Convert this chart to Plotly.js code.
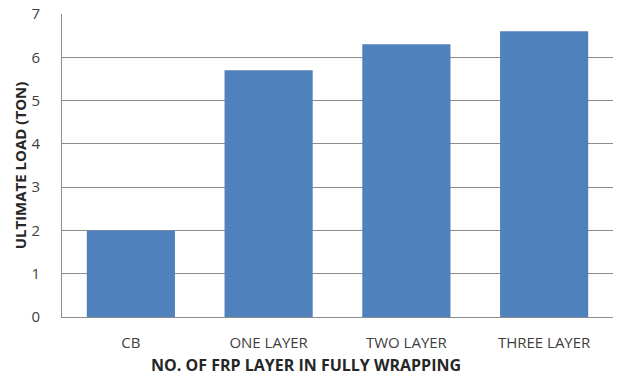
<!DOCTYPE html>
<html><head><meta charset="utf-8">
<script src="https://cdn.plot.ly/plotly-3.0.1.min.js"></script>
<style>html,body{margin:0;padding:0;background:#fff}#chart{width:618px;height:377px}</style>
</head><body><div id="chart"></div>
<script>
const categories = ["CB", "ONE LAYER", "TWO LAYER", "THREE LAYER"];
const ultimateLoad = [2.0, 5.7, 6.3, 6.6];
const yTicks = [0, 1, 2, 3, 4, 5, 6, 7];
const xTitle = "NO. OF FRP LAYER IN FULLY WRAPPING";
const yTitle = "ULTIMATE LOAD (TON)";

Plotly.newPlot("chart", [{
  type: "bar",
  x: categories,
  y: ultimateLoad,
  marker: {color: "#4F81BD"},
  hoverinfo: "x+y"
}], {
  width: 618, height: 377,
  margin: {l: 62, r: 5, t: 14, b: 60},
  paper_bgcolor: "#fff", plot_bgcolor: "#fff",
  bargap: 0.36,
  font: {family: "Open Sans, Noto Sans, sans-serif", size: 12, color: "#404040"},
  xaxis: {
    showline: true, linecolor: "#8c8c8c", linewidth: 1,
    ticks: "", ticklabelstandoff: 12, tickfont: {size: 15, color: "#404040"}
  },
  yaxis: {
    range: [0, 7], tickvals: yTicks, ticktext: yTicks.map(String),
    showline: true, linecolor: "#8c8c8c", linewidth: 1,
    showgrid: true, gridcolor: "#8c8c8c", gridwidth: 1,
    zeroline: false, ticks: "", ticklen: 0, ticklabelstandoff: 18,
    tickfont: {size: 15, color: "#404040"},
    title: {text: "<b>" + yTitle + "</b>", font: {size: 15, color: "#262626"}, standoff: 1}
  },
  annotations: [{
    text: "<b>" + xTitle + "</b>", xref: "paper", yref: "paper",
    x: 0.443, y: -0.158, xanchor: "center", yanchor: "middle",
    showarrow: false, font: {size: 16, color: "#262626"}
  }],
  showlegend: false
}, {displayModeBar: false, staticPlot: true});
</script></body></html>
